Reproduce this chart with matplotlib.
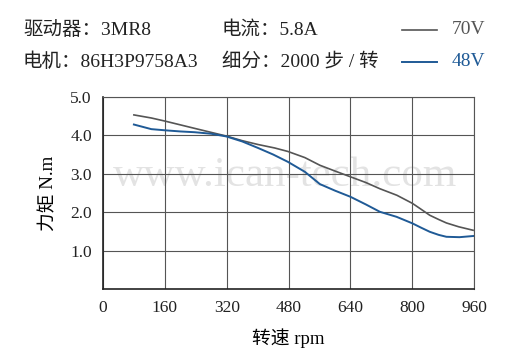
import matplotlib.pyplot as plt

plt.rcParams['font.family'] = ['Liberation Serif', 'Noto Sans CJK SC']

# speed (rpm) and torque (N.m)
rpm_70v = [80, 125, 160, 237, 319, 360, 401, 444, 478, 522, 561, 600,
           640, 680, 716, 760, 800, 822, 845, 868, 888, 920, 957]
torque_70v = [4.53, 4.45, 4.37, 4.18, 3.98, 3.86, 3.76, 3.67, 3.58, 3.42, 3.22, 3.07,
              2.92, 2.77, 2.61, 2.44, 2.23, 2.08, 1.92, 1.81, 1.72, 1.62, 1.53]

rpm_48v = [80, 125, 160, 200, 237, 280, 319, 360, 401, 440, 478, 522, 561, 600,
           640, 680, 716, 759, 800, 822, 845, 868, 888, 922, 957]
torque_48v = [4.28, 4.16, 4.13, 4.10, 4.08, 4.04, 3.97, 3.84, 3.67, 3.50, 3.31, 3.05, 2.73, 2.56,
              2.40, 2.20, 2.01, 1.88, 1.71, 1.60, 1.49, 1.41, 1.36, 1.35, 1.38]

x_ticks = [0, 160, 320, 480, 640, 800, 960]
y_ticks = [1.0, 2.0, 3.0, 4.0, 5.0]

gray = '#555555'
blue = '#1f5a96'

fig = plt.figure(figsize=(5.2, 3.6), dpi=100)
ax = fig.add_axes([0.198, 0.197, 0.714, 0.534])

ax.plot(rpm_70v, torque_70v, color=gray, lw=1.2, solid_joinstyle='round')
ax.plot(rpm_48v, torque_48v, color=blue, lw=1.4, solid_joinstyle='round')

ax.set_xlim(0, 960)
ax.set_ylim(0, 5.0)
ax.set_xticks(x_ticks)
ax.set_yticks(y_ticks)
ax.set_yticklabels(['%.1f' % v for v in y_ticks])
ax.tick_params(length=0, labelsize=12.5, colors='#222222', pad=8)
ax.grid(True, color='#555555', lw=0.8)
for s in ['top', 'right']:
    ax.spines[s].set_color('#555555')
    ax.spines[s].set_linewidth(0.8)
for s in ['left', 'bottom']:
    ax.spines[s].set_color('#222222')
    ax.spines[s].set_linewidth(1.2)

# faint watermark
ax.text(0.49, 0.59, 'www.ican-tech.com', transform=ax.transAxes, ha='center',
        va='center', fontsize=31, color='#e3e3e3', zorder=0)

ax.set_xlabel('转速 rpm', fontsize=13.5, labelpad=9)
ax.set_ylabel('力矩 N.m', fontsize=13.5, labelpad=9)

# header
fs = 14
fig.text(23 / 520, 1 - 30 / 360, '驱动器：3MR8', fontsize=fs, va='center', color='#222222')
fig.text(23 / 520, 1 - 62 / 360, '电机：86H3P9758A3', fontsize=fs, va='center', color='#222222')
fig.text(222 / 520, 1 - 30 / 360, '电流：5.8A', fontsize=fs, va='center', color='#222222')
fig.text(222 / 520, 1 - 62 / 360, '细分：2000 步 / 转', fontsize=fs, va='center', color='#222222')
fig.add_artist(plt.Line2D([402 / 520, 437 / 520], [1 - 30 / 360] * 2, color=gray, lw=1.2))
fig.add_artist(plt.Line2D([402 / 520, 437 / 520], [1 - 62 / 360] * 2, color=blue, lw=1.4))
fig.text(452 / 520, 1 - 30 / 360, '70V', fontsize=fs, va='center', color=gray)
fig.text(452 / 520, 1 - 62 / 360, '48V', fontsize=fs, va='center', color=blue)

fig.savefig('out.png', dpi=100)
